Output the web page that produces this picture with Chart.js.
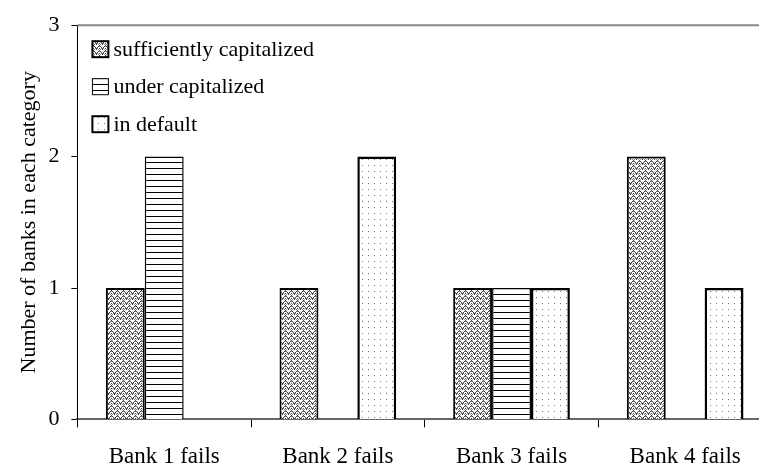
<!DOCTYPE html>
<html>
<head>
<meta charset="utf-8">
<script src="https://cdn.jsdelivr.net/npm/chart.js@4.4.1/dist/chart.umd.min.js"></script>
<style>
  html, body { margin: 0; padding: 0; background: #fff; overflow: hidden; }
  #wrap { width: 790px; height: 466px; }
</style>
</head>
<body>
<div id="wrap"><canvas id="chart" width="790" height="466"></canvas></div>
<script>
// data
const categories = ['Bank 1 fails', 'Bank 2 fails', 'Bank 3 fails', 'Bank 4 fails'];
const sufficientlyCapitalized = [1, 1, 1, 2];
const underCapitalized = [2, 0, 1, 0];
const inDefault = [0, 2, 1, 1];
const yMin = 0, yMax = 3, yStep = 1;

const FONT = "'Liberation Serif', 'Times New Roman', serif";

// fill patterns (mimic the old Excel hatch fills)
function makePattern(w, h, draw) {
  const c = document.createElement('canvas');
  c.width = w; c.height = h;
  const g = c.getContext('2d');
  g.fillStyle = '#fff';
  g.fillRect(0, 0, w, h);
  draw(g);
  return c.getContext('2d').createPattern(c, 'repeat');
}

const wavePattern = makePattern(6, 5, g => {
  g.fillStyle = '#444';
  [[0,3],[1,2],[2,1],[3,0],[4,1],[5,2],[0,4],[3,3]].forEach(([x, y]) => g.fillRect(x, y, 1, 1));
  g.fillStyle = '#888';
  [[1,3],[5,3],[2,4],[4,4],[3,1]].forEach(([x, y]) => g.fillRect(x, y, 1, 1));
});
const linePattern = makePattern(6, 6, g => {
  g.fillStyle = '#000';
  g.fillRect(0, 0, 6, 1);
});
const dotPattern = makePattern(6, 6, g => {
  g.fillStyle = '#777';
  g.fillRect(2, 3, 1, 1);
});

const legendInside = {
  id: 'legendInside',
  afterDraw(chart) {
    const { ctx, chartArea } = chart;
    ctx.save();
    ctx.font = `22px ${FONT}`;
    ctx.textBaseline = 'middle';
    chart.data.datasets.forEach((ds, i) => {
      const x = chartArea.left + 15;
      const cy = chartArea.top + 24 + i * 37.5;
      const s = 16;
      ctx.fillStyle = ds.backgroundColor;
      ctx.fillRect(x, cy - s / 2, s, s);
      ctx.lineWidth = ds.legendBorder;
      ctx.strokeStyle = '#000';
      ctx.strokeRect(x, cy - s / 2, s, s);
      ctx.fillStyle = '#000';
      ctx.fillText(ds.label, x + s + 5, cy + 1);
    });
    ctx.restore();
  },
};

const topBorder = {
  id: 'topBorder',
  afterDatasetsDraw(chart) {
    const { ctx, chartArea } = chart;
    ctx.save();
    ctx.strokeStyle = '#888';
    ctx.lineWidth = 2;
    ctx.beginPath();
    ctx.moveTo(chartArea.left, chartArea.top);
    ctx.lineTo(chartArea.right, chartArea.top);
    ctx.stroke();
    ctx.restore();
  },
};

const bw = w => c => (c.raw === 0 ? 0 : w);

new Chart(document.getElementById('chart'), {
  type: 'bar',
  data: {
    labels: categories,
    datasets: [
      {
        label: 'sufficiently capitalized',
        data: sufficientlyCapitalized,
        backgroundColor: wavePattern,
        borderColor: '#000',
        borderWidth: bw(2),
        borderSkipped: 'bottom',
        legendBorder: 2,
      },
      {
        label: 'under capitalized',
        data: underCapitalized,
        backgroundColor: linePattern,
        borderColor: '#000',
        borderWidth: bw(1.5),
        borderSkipped: 'bottom',
        legendBorder: 1,
      },
      {
        label: 'in default',
        data: inDefault,
        backgroundColor: dotPattern,
        borderColor: '#000',
        borderWidth: bw(2.5),
        borderSkipped: 'bottom',
        legendBorder: 2,
      },
    ],
  },
  options: {
    responsive: false,
    animation: false,
    devicePixelRatio: 1,
    layout: { padding: { left: 16, right: 18, top: 12, bottom: -21 } },
    datasets: {
      bar: { barPercentage: 1, categoryPercentage: 0.672 },
    },
    plugins: {
      legend: { display: false },
      tooltip: { enabled: false },
    },
    scales: {
      x: {
        grid: {
          offset: true,
          drawOnChartArea: false,
          tickColor: '#000',
          tickLength: 8,
        },
        border: { color: '#666', width: 2 },
        ticks: {
          color: '#000',
          padding: 16,
          font: { family: FONT, size: 23 },
        },
      },
      y: {
        min: yMin,
        max: yMax,
        ticks: {
          stepSize: yStep,
          color: '#000',
          padding: 12,
          font: { family: FONT, size: 22 },
        },
        grid: {
          drawOnChartArea: false,
          tickColor: '#000',
          tickLength: 6,
        },
        border: { color: '#000', width: 1 },
        title: {
          display: true,
          text: 'Number of banks in each category',
          color: '#000',
          font: { family: FONT, size: 22 },
          padding: { top: 0, bottom: -6 },
        },
      },
    },
  },
  plugins: [legendInside, topBorder],
});
</script>
</body>
</html>
